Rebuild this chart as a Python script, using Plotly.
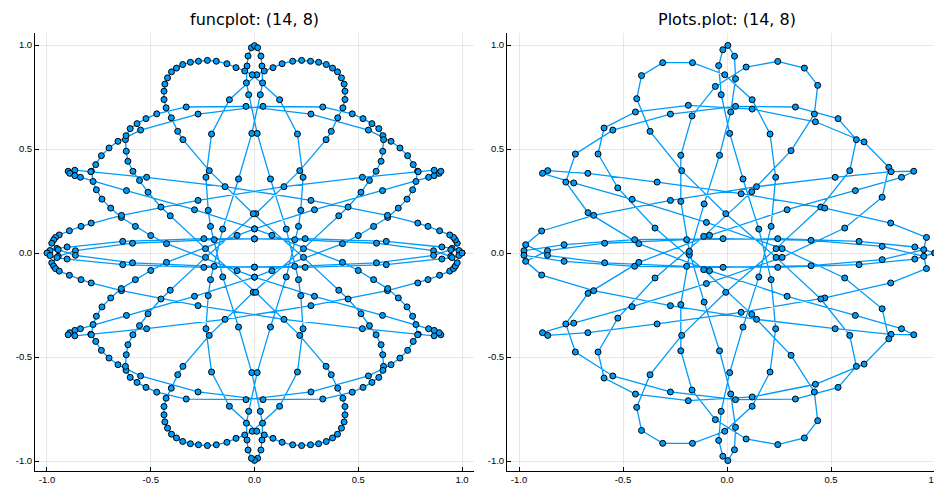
import plotly.graph_objects as go
from plotly.subplots import make_subplots

# ---- Right panel ("Plots.plot"): dots, in drawing order,
# first half of the path (the second half is the same dots mirrored in y, reversed).
right_half_x = [0.999, 0.903, 0.635, 0.244, -0.194, -0.588, -0.863, -0.968, -0.891, -0.641,
                -0.272, 0.142, 0.520, 0.789, 0.898, 0.839, 0.617, 0.289, -0.084, -0.424,
                -0.668, -0.775, -0.729, -0.549, -0.272, 0.041, 0.329, 0.534, 0.622, 0.590,
                0.451, 0.236, -0.006, -0.218, -0.370, -0.434, -0.411, -0.309, -0.166, -0.011,
                0.121, 0.207, 0.234, 0.212, 0.153, 0.077, 0.013, -0.028, -0.040, -0.020,
                0.004, 0.036, 0.041, 0.018, -0.036, -0.110, -0.181, -0.222, -0.222, -0.168,
                -0.056, 0.092, 0.244, 0.372, 0.436, 0.420, 0.308, 0.119, -0.112, -0.346,
                -0.525, -0.620, -0.591, -0.440, -0.186, 0.121, 0.425, 0.659, 0.778, 0.746,
                0.566, 0.265, -0.099, -0.456, -0.737, -0.887, -0.862, -0.669, -0.336, 0.068,
                0.470, 0.787, 0.959, 0.946, 0.746, 0.404, -0.019, -0.444, -0.783, -0.976]
right_half_y = [0.000, 0.029, 0.056, 0.069, 0.064, 0.047, 0.011, -0.040, -0.106, -0.181,
                -0.253, -0.319, -0.364, -0.391, -0.393, -0.364, -0.300, -0.208, -0.085, 0.045,
                0.194, 0.341, 0.476, 0.591, 0.668, 0.705, 0.702, 0.646, 0.545, 0.396,
                0.221, 0.021, -0.189, -0.396, -0.585, -0.742, -0.853, -0.915, -0.915, -0.857,
                -0.737, -0.572, -0.364, -0.128, 0.115, 0.356, 0.575, 0.761, 0.901, 0.977,
                0.998, 0.946, 0.838, 0.678, 0.470, 0.236, -0.008, -0.248, -0.470, -0.659,
                -0.801, -0.894, -0.921, -0.889, -0.806, -0.668, -0.492, -0.295, -0.080, 0.120,
                0.313, 0.476, 0.601, 0.678, 0.710, 0.692, 0.631, 0.534, 0.412, 0.268,
                0.120, -0.021, -0.147, -0.258, -0.337, -0.383, -0.396, -0.383, -0.341, -0.285,
                -0.216, -0.144, -0.075, -0.016, 0.032, 0.061, 0.069, 0.064, 0.040, 0.011]

# ---- Left panel ("funcplot"): dots for the first quarter of the
# path (from the tip at (1, 0) to the top at (0, 1)); the panel is symmetric in x and y.
left_quarter_x = [1.000, 0.985, 0.952, 0.903, 0.635, 0.244, 0.000, -0.194, -0.588, -0.863,
                  -0.946, -0.977, -0.968, -0.959, -0.941, -0.892, -0.836, -0.787, -0.641, -0.272,
                  0.142, 0.520, 0.789, 0.866, 0.898, 0.890, 0.866, 0.839, 0.617, 0.289,
                  0.000, -0.084, -0.424, -0.500, -0.574, -0.642, -0.693, -0.735, -0.762, -0.778,
                  -0.786, -0.765, -0.738, -0.701, -0.658, -0.549, -0.272, 0.041, 0.329, 0.471,
                  0.523, 0.566, 0.599, 0.619, 0.622, 0.618, 0.610, 0.586, 0.554, 0.513,
                  0.451, 0.406, 0.236, -0.006, -0.218, -0.345, -0.370, -0.401, -0.426, -0.436,
                  -0.436, -0.432, -0.419, -0.400, -0.376, -0.346, -0.309, -0.270, -0.227, -0.184,
                  -0.133, -0.089, -0.047, -0.011, 0.121, 0.207, 0.234, 0.223, 0.212, 0.153,
                  0.077, 0.013, -0.028, -0.039, -0.036, -0.031, -0.015, 0.000]
left_quarter_y = [0.000, 0.012, 0.022, 0.029, 0.056, 0.069, 0.068, 0.064, 0.047, 0.011,
                  -0.016, -0.047, -0.063, -0.075, -0.087, -0.107, -0.128, -0.144, -0.181, -0.253,
                  -0.319, -0.364, -0.391, -0.398, -0.393, -0.383, -0.372, -0.364, -0.300, -0.208,
                  -0.116, -0.085, 0.045, 0.084, 0.128, 0.171, 0.216, 0.259, 0.304, 0.344,
                  0.393, 0.425, 0.468, 0.505, 0.537, 0.591, 0.668, 0.705, 0.702, 0.669,
                  0.646, 0.622, 0.598, 0.564, 0.545, 0.489, 0.441, 0.393, 0.349, 0.292,
                  0.221, 0.179, 0.021, -0.189, -0.396, -0.545, -0.585, -0.650, -0.698, -0.738,
                  -0.778, -0.812, -0.842, -0.871, -0.889, -0.906, -0.917, -0.922, -0.926, -0.922,
                  -0.910, -0.891, -0.875, -0.857, -0.737, -0.572, -0.364, -0.205, -0.128, 0.115,
                  0.356, 0.575, 0.761, 0.818, 0.899, 0.947, 0.987, 0.997]

# Assemble the drawing order from the read halves / quarter using the picture's symmetry.
right_x = right_half_x + right_half_x[::-1]
right_y = right_half_y + [-v for v in right_half_y[::-1]]

lh_x = left_quarter_x + [-v for v in left_quarter_x[-2::-1]]
lh_y = left_quarter_y + left_quarter_y[-2::-1]
left_x = lh_x + lh_x[-2::-1]
left_y = lh_y + [-v for v in lh_y[-2::-1]]

BLUE = "#009af9"
ML, MR, MT, MB = 27, 3, 25, 23
W = 942 - ML - MR
fig = make_subplots(rows=1, cols=2, horizontal_spacing=0.0)
fig.update_layout(
    width=942, height=486, margin=dict(l=ML, r=MR, t=MT, b=MB),
    paper_bgcolor="white", plot_bgcolor="white", showlegend=False,
    font=dict(family="Liberation Sans", size=9.5, color="black"),
)
fig.layout.xaxis.domain = [0.0, 439 / W]
fig.layout.xaxis2.domain = [(499 - ML) / W, 1.0]

for col, xs, ys in ((1, left_x, left_y), (2, right_x, right_y)):
    fig.add_trace(go.Scatter(x=xs, y=ys, mode="lines",
                             line=dict(color=BLUE, width=1.3), hoverinfo="skip"), row=1, col=col)
    fig.add_trace(go.Scatter(x=xs, y=ys, mode="markers",
                             marker=dict(color=BLUE, size=6, line=dict(color="black", width=1))),
                  row=1, col=col)

ticks = [-1.0, -0.5, 0.0, 0.5, 1.0]
labels = ["-1.0", "-0.5", "0.0", "0.5", "1.0"]
common = dict(tickvals=ticks, ticktext=labels, showgrid=True,
              gridcolor="rgba(0,0,0,0.09)", gridwidth=0.6, zeroline=False, showline=True,
              linecolor="black", linewidth=1, ticks="inside", ticklen=4, tickcolor="black",
              tickfont=dict(family="Liberation Sans", size=9.5, color="black"), mirror=False)
fig.update_xaxes(**common)
fig.update_yaxes(range=[-1.048, 1.0577], **common)
fig.layout.xaxis.range = [-1.0578, 1.0578]
fig.layout.xaxis2.range = [-1.0577, 1.0577]

for txt, xc in (("funcplot: (14, 8)", 246.5), ("Plots.plot: (14, 8)", 719)):
    fig.add_annotation(text=txt, xref="paper", yref="paper", x=(xc - ML) / W, y=1.0,
                       yshift=14, xanchor="center", yanchor="middle", showarrow=False,
                       font=dict(family="DejaVu Sans", size=16, color="black"))
fig.write_html("out.html")
